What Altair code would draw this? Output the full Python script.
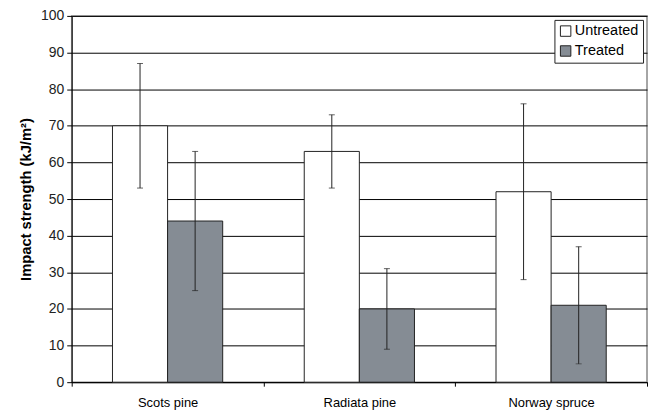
import altair as alt
import pandas as pd

species = ["Scots pine", "Radiata pine", "Norway spruce"]
treatments = ["Untreated", "Treated"]
untreated = [70, 63, 52]
untreated_lo = [53, 53, 28]
untreated_hi = [87, 73, 76]
treated = [44, 20, 21]
treated_lo = [25, 9, 5]
treated_hi = [63, 31, 37]

rows = []
for i, s in enumerate(species):
    rows.append(dict(species=s, treatment="Untreated", value=untreated[i], lo=untreated_lo[i], hi=untreated_hi[i]))
    rows.append(dict(species=s, treatment="Treated", value=treated[i], lo=treated_lo[i], hi=treated_hi[i]))
df = pd.DataFrame(rows)

FONT = "Liberation Sans"
TITLE = "Impact strength (kJ/m²)"
yscale = alt.Scale(domain=[0, 100], nice=False)
yaxis = alt.Axis(values=list(range(0, 101, 10)), grid=True, gridColor="black",
                 gridOpacity=1, gridWidth=1, domainColor="black",
                 tickColor="black", tickSize=5, labelFontSize=14,
                 labelColor="#222222", labelFont=FONT, labelPadding=3,
                 labelOverlap=False,
                 titleFont=FONT, titleFontSize=14.8, titleFontWeight="bold",
                 titleColor="black", titlePadding=7)

base = alt.Chart(df).encode(
    x=alt.X("species:N", sort=species, title=None,
            scale=alt.Scale(paddingInner=0, paddingOuter=0),
            axis=alt.Axis(labelAngle=0, tickBand="extent", domainColor="black",
                          tickColor="black", tickSize=4, labelPadding=10,
                          labelFontSize=13, labelColor="black", labelFont=FONT,
                          grid=False)),
    xOffset=alt.XOffset("treatment:N", sort=treatments,
                        scale=alt.Scale(paddingInner=0, paddingOuter=0.74)),
)

bars = base.mark_bar(stroke="#222222", strokeWidth=1).encode(
    y=alt.Y("value:Q", scale=yscale, title=TITLE, axis=yaxis),
    fill=alt.Fill("treatment:N",
                  scale=alt.Scale(domain=treatments, range=["white", "#858c94"]),
                  legend=alt.Legend(title=None, orient="top-right", offset=4,
                                    symbolType="square", symbolSize=110,
                                    symbolStrokeColor="#222222", symbolStrokeWidth=1,
                                    labelFontSize=14.5, labelFont=FONT, labelColor="black",
                                    strokeColor="#222222", fillColor="white",
                                    padding=4, rowPadding=4, labelOffset=2)),
)

err = base.mark_rule(color="#222222", strokeWidth=1).encode(
    y=alt.Y("lo:Q", scale=yscale, title=TITLE, axis=yaxis), y2="hi:Q"
)
cap_lo = base.mark_tick(color="#222222", size=6, thickness=1).encode(
    y=alt.Y("lo:Q", scale=yscale, title=TITLE, axis=yaxis))
cap_hi = base.mark_tick(color="#222222", size=6, thickness=1).encode(
    y=alt.Y("hi:Q", scale=yscale, title=TITLE, axis=yaxis))

chart = alt.layer(bars, err, cap_lo, cap_hi).properties(
    width=578, height=368,
    padding={"left": 10, "top": 0, "right": 0, "bottom": 0},
).configure_view(stroke="#888888", strokeWidth=1.5)

chart.save("out.html", embed_options={"renderer": "svg", "actions": False})
